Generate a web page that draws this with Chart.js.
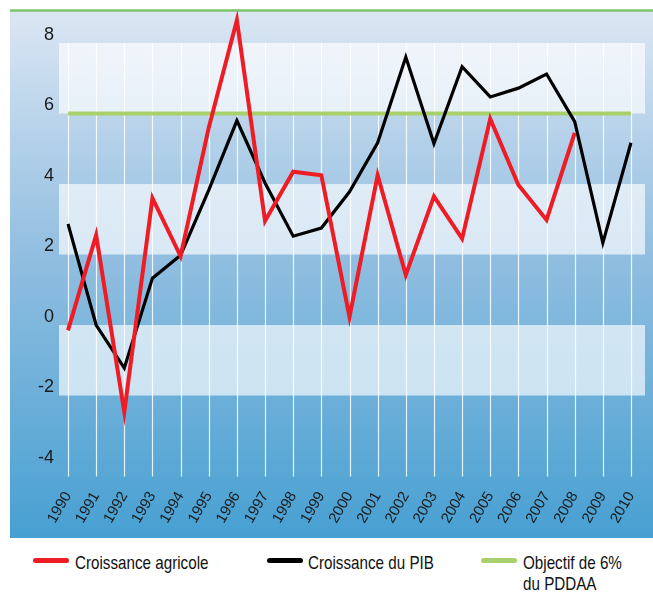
<!DOCTYPE html>
<html>
<head>
<meta charset="utf-8">
<script src="https://cdn.jsdelivr.net/npm/chart.js@4"></script>
<style>
  body { margin: 0; background: #fff; font-family: "Liberation Sans", Arial, sans-serif; }
  #wrap { position: relative; width: 653px; height: 592px; }
  #chart { position: absolute; left: 0; top: 0; }
  .leg { position: absolute; font-size: 19px; color: #111; line-height: 21px; }
  .leg i { position: absolute; top: 6px; width: 36px; height: 5px; border-radius: 3px; }
  .leg span { position: absolute; white-space: nowrap; transform: scaleX(0.8); transform-origin: 0 0; }
</style>
</head>
<body>
<div id="wrap">
  <canvas id="chart" width="653" height="540"></canvas>
  <div class="leg" style="left:33px;top:552px"><i style="background:#ee1c25"></i><span style="left:42px">Croissance agricole</span></div>
  <div class="leg" style="left:267px;top:552px"><i style="background:#000"></i><span style="left:41px">Croissance du PIB</span></div>
  <div class="leg" style="left:481px;top:552px"><i style="background:#a9d16b"></i><span style="left:42px">Objectif de 6%<br>du PDDAA</span></div>
</div>
<script>
// Data
const years = ['1990', '1991', '1992', '1993', '1994', '1995', '1996', '1997', '1998', '1999', '2000',
               '2001', '2002', '2003', '2004', '2005', '2006', '2007', '2008', '2009', '2010'];
const croissanceAgricole = [-0.15, 2.55, -2.47, 3.6, 1.95, 5.6, 8.65, 2.95, 4.35, 4.25, 0.23,
                            4.25, 1.42, 3.65, 2.45, 5.85, 3.97, 2.98, 5.45, null, null];
const croissancePIB = [2.87, 0.0, -1.22, 1.33, 1.98, 3.83, 5.8, 4.03, 2.52, 2.75, 3.78,
                       5.17, 7.6, 5.15, 7.33, 6.47, 6.72, 7.12, 5.77, 2.33, 5.17];
const objectifPDDAA = [6, 6, 6, 6, 6, 6, 6, 6, 6, 6, 6, 6, 6, 6, 6, 6, 6, 6, 6, 6, 6];
const yTicks = [-4, -2, 0, 2, 4, 6, 8];
const bands = [[6, 8], [2, 4], [-2, 0]];

// background panel, light bands and vertical grid
const decor = {
    id: 'decor',
    beforeDraw(chart) {
        const ctx = chart.ctx;
        const g = ctx.createLinearGradient(0, 12, 0, 538);
        g.addColorStop(0, '#dbe6f3');
        g.addColorStop(0.45, '#93bfe1');
        g.addColorStop(1, '#47a0d2');
        ctx.save();
        ctx.fillStyle = g;
        ctx.fillRect(10, 11, chart.width - 10, 527);
        ctx.strokeStyle = '#7dc36b';
        ctx.lineWidth = 2.5;
        ctx.beginPath();
        ctx.moveTo(10, 10.5);
        ctx.lineTo(chart.width, 10.5);
        ctx.stroke();
        ctx.restore();
    },
    beforeDatasetsDraw(chart) {
        const ctx = chart.ctx;
        const y = chart.scales.y, x = chart.scales.x;
        const area = chart.chartArea;
        ctx.save();
        ctx.fillStyle = 'rgba(255,255,255,0.65)';
        bands.forEach(([lo, hi]) => {
            const top = y.getPixelForValue(hi), bot = y.getPixelForValue(lo);
            ctx.fillRect(area.left - 9, top, area.right - area.left + 23, bot - top);
        });
        ctx.strokeStyle = 'rgba(255,255,255,0.85)';
        ctx.lineWidth = 1.2;
        const top = y.getPixelForValue(yTicks[yTicks.length - 1]);
        years.forEach((yr, i) => {
            const px = Math.round(x.getPixelForValue(i)) + 0.5;
            ctx.beginPath();
            ctx.moveTo(px, top);
            ctx.lineTo(px, area.bottom);
            ctx.stroke();
        });
        ctx.restore();
    }
};

const ctx = document.getElementById('chart').getContext('2d');
new Chart(ctx, {
    type: 'line',
    data: {
        labels: years,
        datasets: [{
            label: 'Croissance agricole',
            data: croissanceAgricole,
            borderColor: '#ee1c25',
            borderWidth: 4,
            pointRadius: 0,
            tension: 0,
            spanGaps: false
        }, {
            label: 'Croissance du PIB',
            data: croissancePIB,
            borderColor: '#000000',
            borderWidth: 3.2,
            pointRadius: 0,
            tension: 0
        }, {
            label: 'Objectif de 6% du PDDAA',
            data: objectifPDDAA,
            borderColor: '#a9d16b',
            borderWidth: 4,
            pointRadius: 0,
            tension: 0
        }]
    },
    options: {
        responsive: false,
        animation: false,
        layout: { padding: { top: 11.3, right: 22, left: 0, bottom: 0 } },
        plugins: {
            legend: { display: false },
            tooltip: { enabled: false }
        },
        scales: {
            x: {
                offset: false,
                grid: { display: false },
                border: { display: false },
                ticks: {
                    color: '#1a1a1a',
                    font: { family: 'Liberation Sans', size: 15 },
                    minRotation: 60,
                    maxRotation: 60,
                    autoSkip: false,
                    padding: 4
                },
                afterFit(scale) {
                    scale.height = 63.4;
                    scale.paddingLeft = 0;
                    scale.paddingRight = 0;
                }
            },
            y: {
                min: -4.3,
                max: 8.9,
                grid: { display: false },
                border: { display: false },
                afterBuildTicks(scale) { scale.ticks = yTicks.map(v => ({ value: v })); },
                ticks: {
                    color: '#1a1a1a',
                    font: { family: 'Liberation Sans', size: 18 },
                    padding: 6,
                    labelOffset: -8
                },
                afterFit(scale) {
                    scale.width = 68;
                    scale.paddingTop = 0;
                    scale.paddingBottom = 0;
                }
            }
        }
    },
    plugins: [decor]
});
</script>
</body>
</html>
